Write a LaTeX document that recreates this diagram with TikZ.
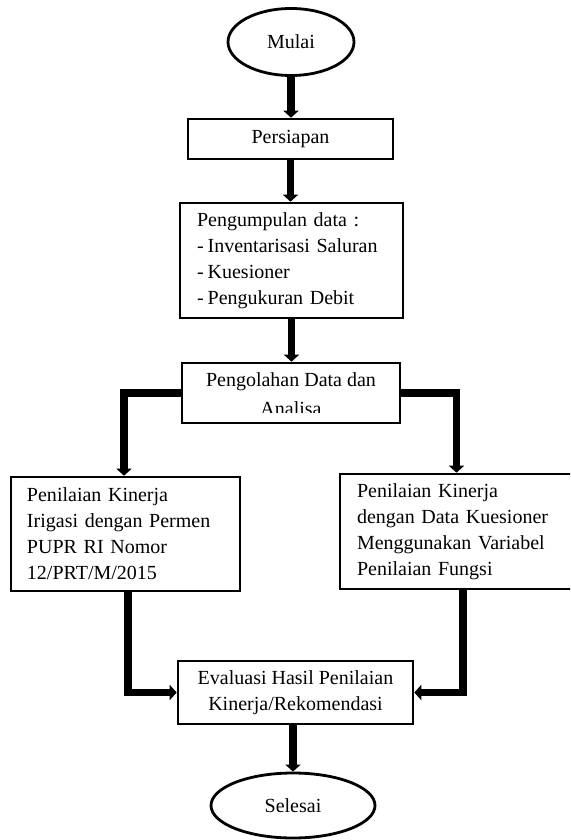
\documentclass[tikz,border=0pt]{standalone}
\usepackage{fontspec}
\setmainfont{Liberation Serif}
\usepackage{trimclip}
\usetikzlibrary{arrows.meta,shapes.geometric}
\newcommand{\fcfont}{\fontsize{20}{26}\selectfont}
\begin{document}
\begin{tikzpicture}[x=1pt,y=-1pt,
  box/.style={draw,rectangle,line width=2.6pt,inner sep=0pt,font=\fcfont},
  ell/.style={draw,ellipse,line width=2.8pt,inner sep=0pt,font=\fcfont},
  arr/.style={line width=7.5pt,-{Triangle[width=15pt,length=7pt]}}]
\clip (0,0) rectangle (570,840);
\node[ell,minimum width=126pt,minimum height=67pt] (mulai) at (291,42) {Mulai};
\node[box,minimum width=205pt,minimum height=40pt] (persiapan) at (290.5,139) {Persiapan};
\node[box,text width=189pt,inner xsep=17pt,minimum height=115pt,align=left] (kumpul) at (291.5,260.5)
  {Pengumpulan data :\\-\hspace{4pt}Inventarisasi Saluran\\-\hspace{4pt}Kuesioner\\-\hspace{4pt}Pengukuran Debit};
\node[box,minimum width=218pt,minimum height=60pt,align=center] (olah) at (291,393)
  {Pengolahan Data dan\\\clipbox{0pt 2.5pt 0pt 0pt}{Analisa}};
\node[box,text width=197pt,inner xsep=16pt,minimum height=114pt,align=left] (kiri) at (125.5,534)
  {Penilaian Kinerja\\Irigasi dengan Permen\\PUPR RI Nomor\\12/PRT/M/2015};
\node[box,text width=201pt,inner xsep=17pt,minimum height=115pt,align=left] (kanan) at (457.5,531.5)
  {Penilaian Kinerja\\dengan Data Kuesioner\\Menggunakan Variabel\\Penilaian Fungsi};
\node[box,minimum width=235pt,minimum height=63pt,align=center] (eval) at (295.5,692.5)
  {Evaluasi Hasil Penilaian\\Kinerja/Rekomendasi};
\node[ell,minimum width=164pt,minimum height=65pt] (selesai) at (293,805.5) {Selesai};

\draw[arr] (mulai.south) -- (mulai.south |- persiapan.north);
\draw[arr] (persiapan.south) -- (persiapan.south |- kumpul.north);
\draw[arr] (kumpul.south) -- (kumpul.south |- olah.north);
\draw[arr] (olah.west) -| ([xshift=-1.5pt]kiri.north);
\draw[arr] (olah.east) -| ([xshift=-1pt]kanan.north);
\draw[arr] ([xshift=2.5pt]kiri.south) |- (eval.west);
\draw[arr] ([xshift=5.5pt]kanan.south) |- (eval.east);
\draw[arr] ([xshift=-2.5pt]eval.south) -- ([xshift=-2.5pt]eval.south |- selesai.north);
\end{tikzpicture}
\end{document}
